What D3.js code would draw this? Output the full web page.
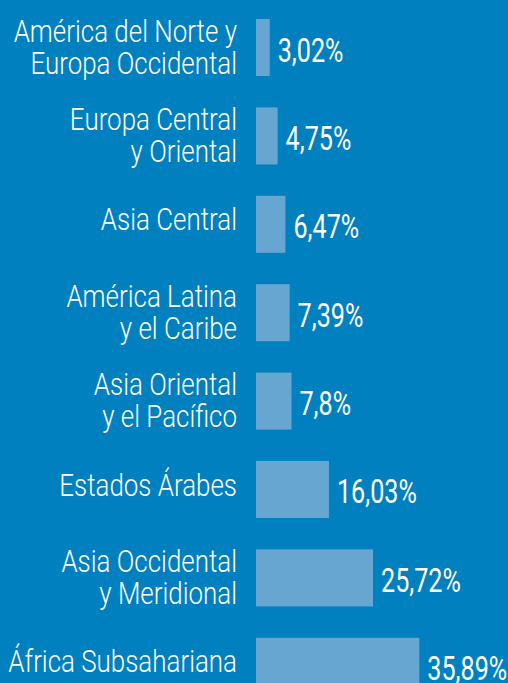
<!DOCTYPE html>
<html>
<head>
<meta charset="utf-8">
<script src="https://cdn.jsdelivr.net/npm/d3@7"></script>
<style>
  html, body { margin: 0; padding: 0; background: #0080be; overflow: hidden; }
  svg { display: block; }
</style>
</head>
<body>
<script>
const categories = [
  "América del Norte y\nEuropa Occidental",
  "Europa Central\ny Oriental",
  "Asia Central",
  "América Latina\ny el Caribe",
  "Asia Oriental\ny el Pacífico",
  "Estados Árabes",
  "Asia Occidental\ny Meridional",
  "África Subsahariana"
];
const values = [3.02, 4.75, 6.47, 7.39, 7.8, 16.03, 25.72, 35.89];
const valueLabels = ["3,02%", "4,75%", "6,47%", "7,39%", "7,8%", "16,03%", "25,72%", "35,89%"];

const W = 508, H = 683;
const svg = d3.select("body").append("svg").attr("width", W).attr("height", H);
svg.append("rect").attr("width", W).attr("height", H).attr("fill", "#0080be");

const y = d3.scaleBand().domain(categories).range([19, 694.8]).paddingInner(0.355).paddingOuter(0);
const x = d3.scaleLinear().domain([0, 40]).range([256, 438]);

const rows = svg.selectAll("g.row").data(categories).join("g").attr("class", "row");

rows.append("rect")
  .attr("x", x(0))
  .attr("y", d => y(d))
  .attr("width", (d, i) => x(values[i]) - x(0))
  .attr("height", y.bandwidth())
  .attr("fill", "#68a6d2");

// category labels
rows.each(function(d) {
  const lines = d.split("\n");
  const cy = y(d) + y.bandwidth() / 2;
  const g = d3.select(this).append("g")
    .attr("transform", `translate(237,${cy}) scale(0.85,1)`);
  const baselines = lines.length === 2 ? [-6, 26] : [6];
  lines.forEach((ln, k) => {
    g.append("text")
      .attr("x", 0)
      .attr("y", baselines[k])
      .attr("text-anchor", "end")
      .attr("fill", "#ffffff")
      .style("font-family", "Roboto, 'Liberation Sans', sans-serif")
      .style("font-weight", "300")
      .style("font-size", "30.5px")
      .text(ln);
  });
});

// value labels
rows.append("text")
  .attr("transform", (d, i) => `translate(${x(values[i]) + 8},${y(d) + y.bandwidth() / 2 + 14}) scale(0.74,1)`)
  .attr("fill", "#ffffff")
  .style("font-family", "Roboto, 'Liberation Sans', sans-serif")
  .style("font-size", "34px")
  .text((d, i) => valueLabels[i]);
</script>
</body>
</html>
